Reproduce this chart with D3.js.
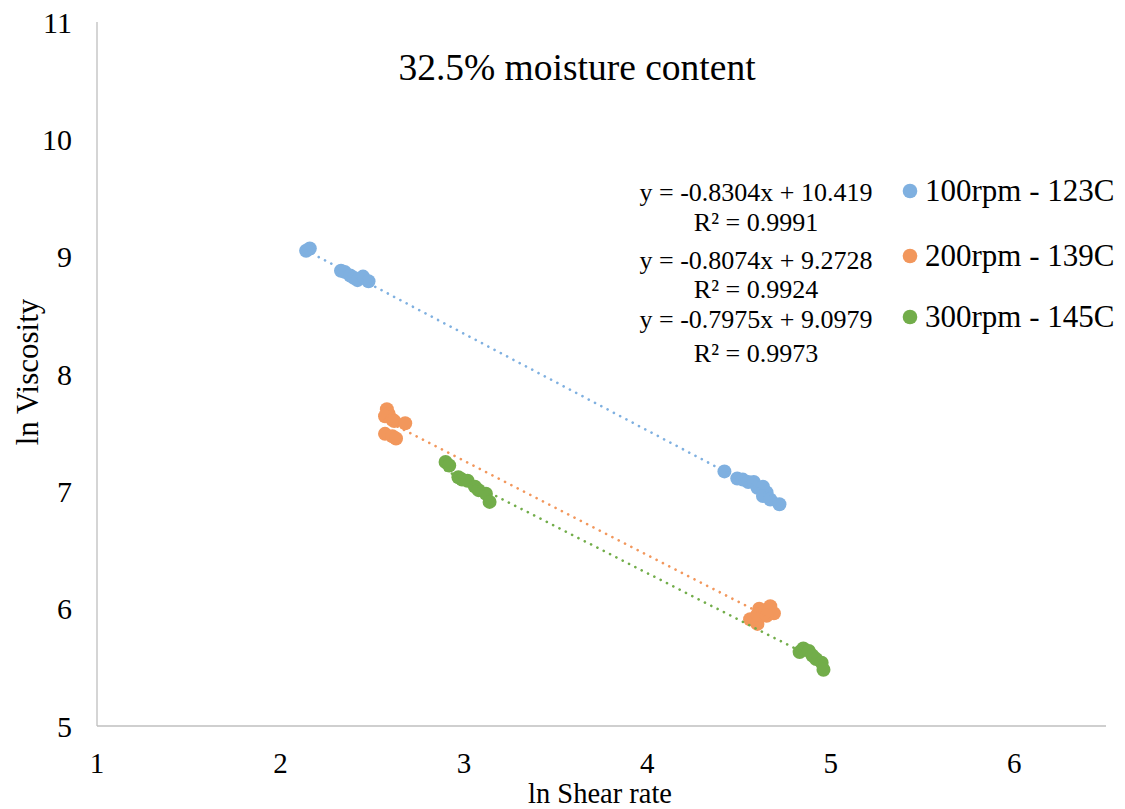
<!DOCTYPE html>
<html><head><meta charset="utf-8">
<script src="https://cdn.jsdelivr.net/npm/d3@7"></script>
<style>body{margin:0;background:#fff}svg{display:block}</style>
</head><body>
<svg id="c" width="1125" height="809"></svg>
<script>
const title = "32.5% moisture content";
const xTicks = [1,2,3,4,5,6];
const yTicks = [5,6,7,8,9,10,11];
const seriesNames = ["100rpm - 123C","200rpm - 139C","300rpm - 145C"];
const seriesColors = ["#7fb0e0","#f2975c","#72ad4a"];
const equations = ["y = -0.8304x + 10.419","y = -0.8074x + 9.2728","y = -0.7975x + 9.0979"];
const r2 = ["R² = 0.9991","R² = 0.9924","R² = 0.9973"];
const s1x = [2.14,2.16,2.33,2.35,2.38,2.40,2.42,2.45,2.48, 4.42,4.49,4.52,4.55,4.58,4.60,4.63,4.65,4.63,4.67,4.72];
const s1y = [9.05,9.07,8.88,8.87,8.84,8.82,8.80,8.83,8.79, 7.17,7.11,7.10,7.08,7.08,7.03,7.04,6.99,6.96,6.93,6.89];
const s2x = [2.58,2.59,2.57,2.61,2.62,2.68,2.57,2.61,2.63, 4.56,4.60,4.61,4.63,4.67,4.69,4.60,4.65];
const s2y = [7.70,7.66,7.64,7.61,7.60,7.58,7.49,7.47,7.45, 5.91,5.87,6.00,5.97,6.02,5.96,5.95,5.94];
const s3x = [2.90,2.92,2.97,2.99,3.02,3.06,3.08,3.12,3.14, 4.83,4.85,4.88,4.90,4.92,4.95,4.96];
const s3y = [7.25,7.22,7.12,7.10,7.09,7.04,7.01,6.98,6.91, 5.63,5.66,5.64,5.60,5.57,5.54,5.48];

const FONT = "'Liberation Serif', 'Times New Roman', serif";
const svg = d3.select("#c");
function txt(xp, yp, s, size, anchor){
  return svg.append("text").attr("x",xp).attr("y",yp).attr("text-anchor",anchor||"start")
    .style("font-family",FONT).style("font-size",size+"px").style("fill","#000").text(s);
}
const x = d3.scaleLinear().domain([1,6.5]).range([97,1106]);
const y = d3.scaleLinear().domain([5,11]).range([726,22]);

svg.append("line").attr("x1",97).attr("x2",1106).attr("y1",726).attr("y2",726).attr("stroke","#bfbfbf").attr("stroke-width",1.3);
svg.append("line").attr("x1",97).attr("x2",97).attr("y1",22).attr("y2",726).attr("stroke","#bfbfbf").attr("stroke-width",1.3);

yTicks.forEach(d=>txt(72, y(d)+10.5, d, 30, "end"));
xTicks.forEach(d=>txt(x(d), 773, d, 29, "middle"));

txt(600, 803, "ln Shear rate", 28.5, "middle");
svg.append("text").attr("transform","translate(38,372) rotate(-90)").attr("text-anchor","middle")
  .style("font-family",FONT).style("font-size","31px").text("ln Viscosity");
txt(577, 80, title, 37.5, "middle");

const series = [[s1x,s1y],[s2x,s2y],[s3x,s3y]];
function fit(xs,ys){
  const n=xs.length, mx=d3.mean(xs), my=d3.mean(ys);
  let sxy=0,sxx=0; for(let i=0;i<n;i++){sxy+=(xs[i]-mx)*(ys[i]-my);sxx+=(xs[i]-mx)**2;}
  const b=sxy/sxx; return {b, a:my-b*mx};
}
series.forEach(([xs,ys],k)=>{
  svg.append("g").selectAll("circle").data(xs.map((v,i)=>[v,ys[i]])).enter().append("circle")
    .attr("cx",d=>x(d[0])).attr("cy",d=>y(d[1])).attr("r",7).attr("fill",seriesColors[k]);
});
series.forEach(([xs,ys],k)=>{
  const f = fit(xs,ys); const x0=d3.min(xs), x1=d3.max(xs);
  svg.append("line").attr("x1",x(x0)).attr("y1",y(f.a+f.b*x0)).attr("x2",x(x1)).attr("y2",y(f.a+f.b*x1))
    .attr("stroke",seriesColors[k]).attr("stroke-width",2.6).attr("stroke-dasharray","0.1,7").attr("stroke-linecap","round");
});

const eqY = [[201,231],[269,298],[328,362]];
equations.forEach((e,k)=>{
  txt(756, eqY[k][0], e, 26, "middle");
  txt(756, eqY[k][1], r2[k], 26, "middle");
});
const legY = [191,256,317];
seriesNames.forEach((s,k)=>{
  svg.append("circle").attr("cx",910).attr("cy",legY[k]).attr("r",7.3).attr("fill",seriesColors[k]);
  txt(925, legY[k]+10, s, 31, "start");
});
</script>
</body></html>
